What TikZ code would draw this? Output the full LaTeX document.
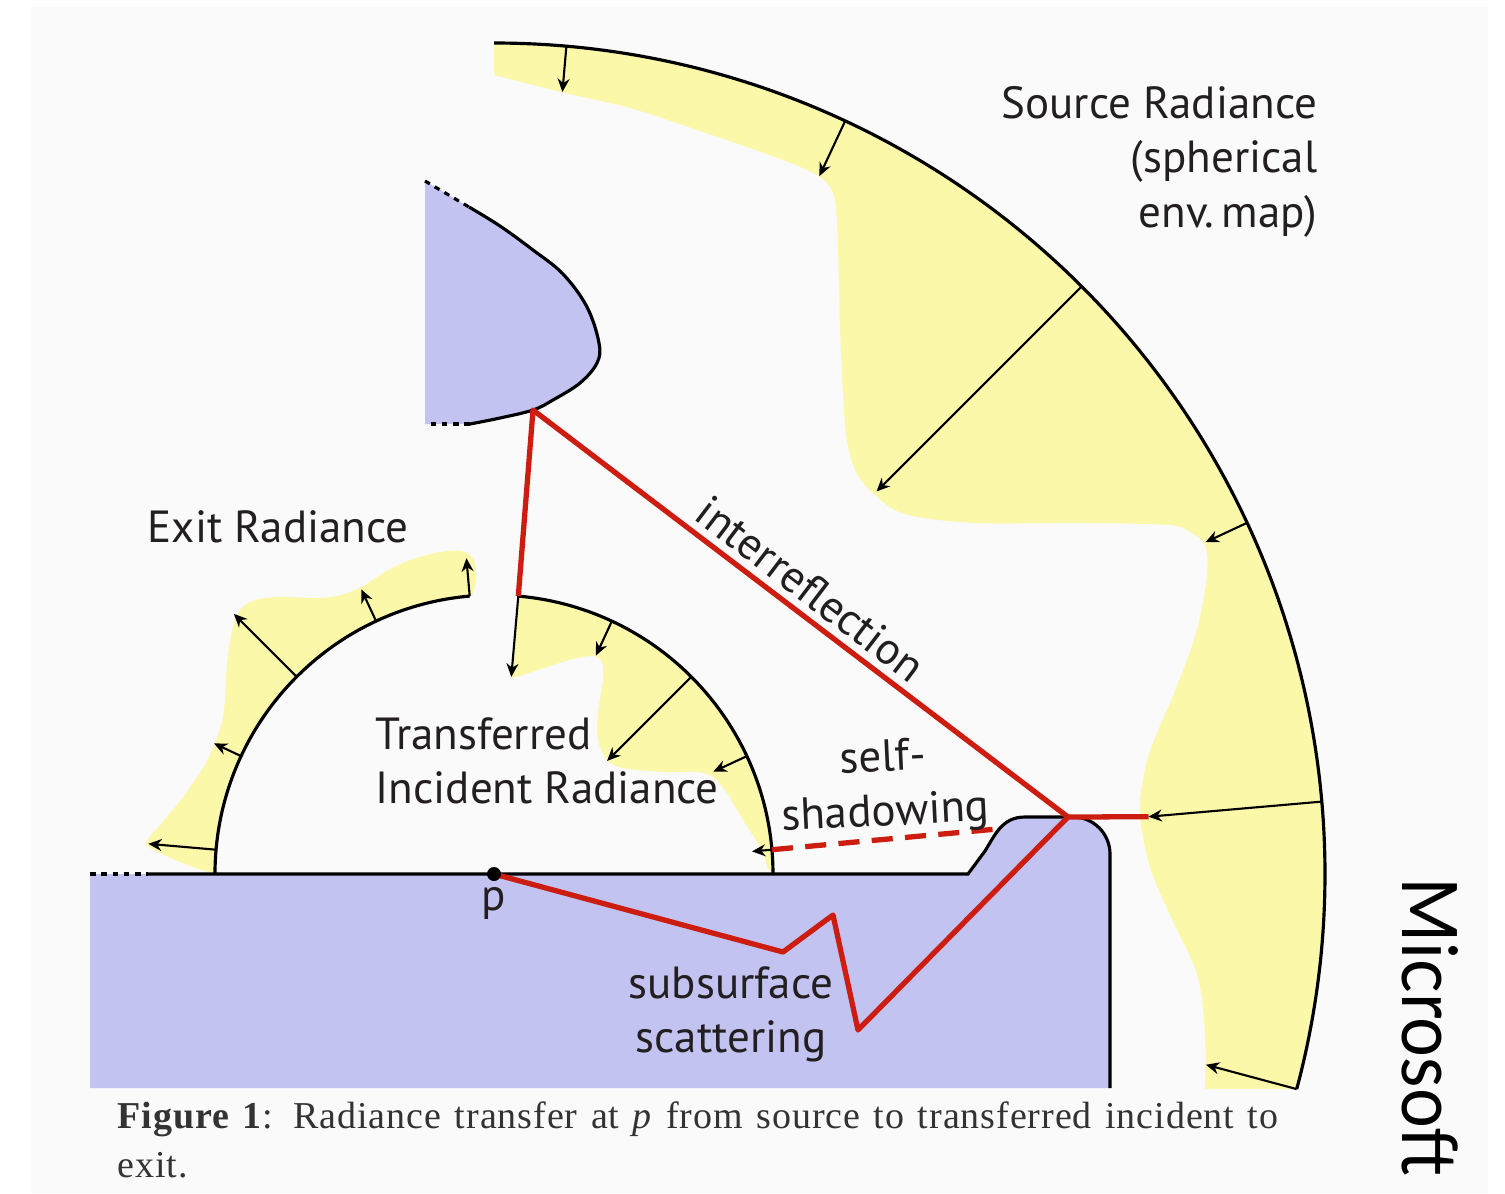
\documentclass[tikz,border=0pt]{standalone}
\usepackage{fontspec}
\setmainfont{Liberation Serif}
\setsansfont{PT Sans}
\newfontfamily\brandfont[FakeStretch=0.92]{Lato}
\usetikzlibrary{arrows.meta}

\definecolor{paper}{HTML}{FAFAFA}
\definecolor{lobe}{HTML}{FCF8A9}
\definecolor{bodyblue}{HTML}{C2C3F0}
\definecolor{ray}{HTML}{CD1C10}
\definecolor{ink}{HTML}{231F20}
\definecolor{captext}{HTML}{333333}

\tikzset{
  shell/.style={line width=0.9pt},
  flux/.style={line width=0.6pt,-{Stealth[length=3.8pt,width=3.4pt]}},
  rayl/.style={ray,line width=1.5pt,line join=round},
  cut/.style={line width=0.9pt,dash pattern=on 1.6pt off 1.6pt},
  lbl/.style={font=\sffamily\fontsize{12.8}{15.4}\selectfont,text=ink,inner sep=0pt},
  captxt/.style={anchor=base west,inner sep=0pt,text=captext,font=\fontsize{10.8}{13}\selectfont\addfontfeature{LetterSpace=2.5}},
}

\begin{document}
\begin{tikzpicture}[x=0.01cm,y=-0.01cm]
\useasboundingbox (0,0) rectangle (1505,1193);
\fill[white] (0,0) rectangle (1505,1193);
\fill[paper] (31,7) rectangle (1488,1193);

\coordinate (P) at (494,874);
\coordinate (B) at (533,410);
\coordinate (T) at (518.3,596.1);
\coordinate (X) at (1068,817);
\coordinate (S) at (1148.5,816.7);
\coordinate (D) at (997,829);

% source radiance
\fill[lobe] (494,43) arc[start angle=270,end angle=375,radius=831]
  -- plot[smooth,tension=0.55] coordinates{(1205,1089) (1205,1033) (1197,974) (1170,915) (1150,867) (1140,817) (1142,786) (1151,748) (1175,691) (1196,633) (1207,576) (1205,545) (1190,532) (1168,525) (1081,523) (975,523) (905,514) (875,495) (856,472) (846,434) (841,353) (839,287) (837,220) (833,193) (820,177) (783,160) (706,133) (630,108) (565,93) (494,75)} -- cycle;

% exit radiance
\fill[lobe] (215,874) arc[start angle=180,end angle=265,radius=279]
  -- plot[smooth,tension=0.5] coordinates{(472,596) (476,580) (474,560) (462,551) (440,552) (410,560) (385,572) (365,585) (345,594) (320,598) (280,597) (255,600) (240,610) (232,630) (227,665) (224,710) (218,735) (205,765) (183,797) (162,823) (146,843) (160,853) (190,866) (215,874)} -- cycle;

% transferred incident radiance
\fill[lobe] (T) arc[start angle=275,end angle=360,radius=279]
  -- plot[smooth,tension=0.5] coordinates{(773,874) (768,868) (760,847) (743,820) (727,793) (713,777) (697,772) (663,772) (623,768) (607,760) (598,740) (598,713) (603,680) (602,662) (593,656) (573,659) (547,667) (523,675) (511,678)} -- cycle;

% occluder
\fill[bodyblue] (425,181) -- (469,207) -- plot[smooth,tension=0.6] coordinates{(469,207) (500,226) (533,250) (563,274) (587,307) (599,343) (597,363) (580,383) (553,400) (533,410) (500,418) (470,424)} -- (425,424) -- cycle;
\draw[shell] plot[smooth,tension=0.6] coordinates{(469,207) (500,226) (533,250) (563,274) (587,307) (599,343) (597,363) (580,383) (553,400) (533,410) (500,418) (470,424)};
\draw[cut] (425,181) -- (469,207);
\draw[cut] (470,424) -- (425,424);

% surface
\fill[bodyblue] (90,874) -- (968,874) -- (985,851) .. controls (995,835) and (1002,817) .. (1025,817) -- (1073,817) arc[start angle=-90,end angle=0,radius=37] -- (1110,1088) -- (90,1088) -- cycle;
\draw[shell] (148,874) -- (968,874) -- (985,851) .. controls (995,835) and (1002,817) .. (1025,817) -- (1073,817) arc[start angle=-90,end angle=0,radius=37] -- (1110,1088);
\draw[cut] (90,874) -- (148,874);

% arcs
\draw[shell] (494,43) arc[start angle=270,end angle=375,radius=831];
\draw[shell] (215,874) arc[start angle=180,end angle=265,radius=279];
\draw[shell] (T) arc[start angle=275,end angle=360,radius=279];

% light paths
\draw[rayl] (T) -- (B) -- node[lbl,sloped,above=2pt,pos=0.49] (inter) {interreflection} (X) -- (S);
\draw[rayl] (P) -- (783,952) -- (833,915) -- (858,1030) -- (X);
\draw[rayl,dash pattern=on 6pt off 3.5pt] (771.9,849.7) -- (D);

% incoming
\draw[flux] (566.4,46.2) -- (562.4,92.0);
\draw[flux] (845.2,120.9) -- (819.4,176.1);
\draw[flux] (1081.6,286.4) -- (876.5,491.5);
\draw[flux] (1247.1,522.8) -- (1205.5,542.2);
\draw[flux] (1321.8,801.6) -- (S);
\draw[flux] (1296.7,1089.1) -- (1205.9,1064.7);
% outgoing
\draw[flux] (216.1,849.7) -- (148.3,843.8);
\draw[flux] (241.1,756.1) -- (214.0,743.4);
\draw[flux] (296.7,676.7) -- (233.8,613.8);
\draw[flux] (376.1,621.1) -- (361.3,589.4);
\draw[flux] (469.7,596.1) -- (466.4,558.2);
% transferred
\draw[flux] (T) -- (511.3,676.8);
\draw[flux] (611.9,621.1) -- (595.9,655.6);
\draw[flux] (691.3,676.7) -- (607.1,760.9);
\draw[flux] (746.9,756.1) -- (713.3,771.7);
\draw[flux] (771.9,849.7) -- (752.0,851.4);

\fill (P) circle (7);

\node[lbl,align=right,anchor=north east] (src) at (1318,86) {Source Radiance\\(spherical\\env.\,map)};
\node[lbl,anchor=base west] (exit) at (147,542) {Exit Radiance};
\node[lbl,align=left,anchor=north west] (inc) at (375,717) {Transferred\\Incident Radiance};
\node[lbl,align=center,anchor=north,rotate=2.7] (shad) at (882,739) {self-\\shadowing};
\node[lbl,align=center,anchor=north] (sub) at (731,966) {subsurface\\scattering};
\node[lbl,anchor=base] (plbl) at (494,910) {p};

\node[captxt] (cap1) at (117,1128)
  {\makebox[11.6cm][s]{\textbf{Figure 1}: Radiance transfer at \textit{p} from source to transferred incident to}};
\node[captxt] (cap2) at (117,1177) {exit.};

\node[rotate=-90,anchor=base west,inner sep=0pt,font=\brandfont\fontsize{21.8}{22}\selectfont] (brand) at (1402,877) {Microsoft};
\end{tikzpicture}
\end{document}
